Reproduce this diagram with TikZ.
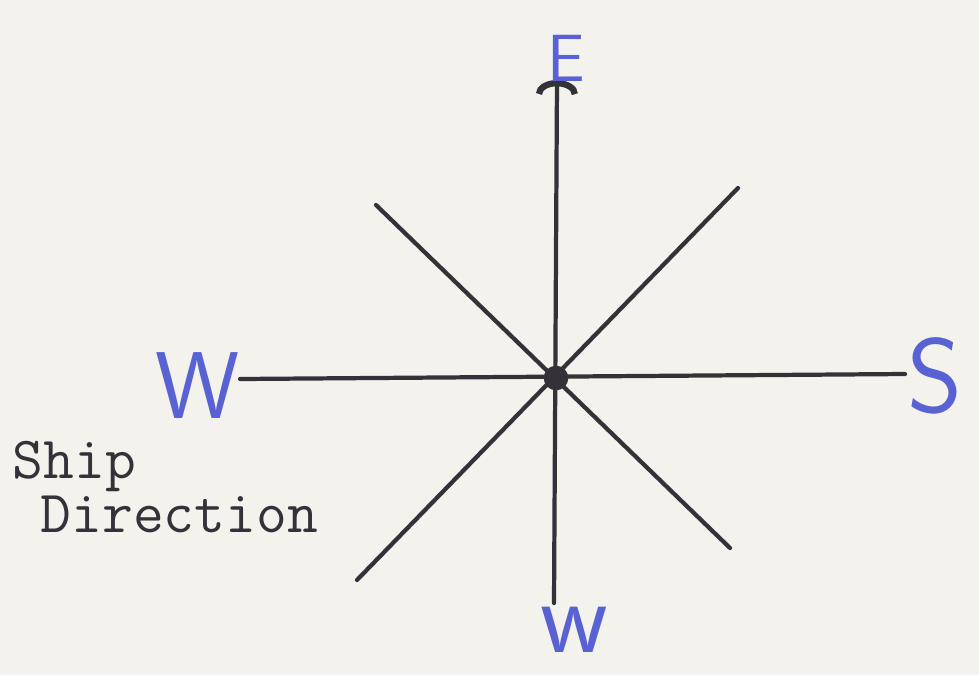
\documentclass[tikz,border=0pt]{standalone}
\usepackage{fontspec}
\usetikzlibrary{arrows.meta,positioning}
\definecolor{inkBlue}{RGB}{88,98,210}
\definecolor{pencil}{RGB}{52,50,56}
\definecolor{paper}{RGB}{243,242,237}

\begin{document}
\begin{tikzpicture}[x=0.01cm, y=-0.01cm,
    leg/.style={draw=pencil, line width=1.2pt, line cap=round},
    hand/.style={text=inkBlue, inner sep=0pt, font=\sffamily\itshape},
    typed/.style={text=pencil, inner sep=0pt, anchor=base west,
      font=\ttfamily\fontsize{17}{17}\selectfont},
  ]
    \fill[paper] (0,0) rectangle (979,675);
    \useasboundingbox (0,0) rectangle (979,675);

    % ends of the eight legs
    \coordinate (top) at (557,80);
    \coordinate (bottom) at (554,603);
    \coordinate (left) at (240,379);
    \coordinate (right) at (905,374);
    \coordinate (ul) at (376,205);
    \coordinate (lr) at (730,548);
    \coordinate (ur) at (738,188);
    \coordinate (ll) at (357,580);

    % the star
    \draw[leg, -{Arc Barb[width=12pt,length=4pt,line width=1.8pt]}] (bottom) -- (top);
    \draw[leg] (left) -- (right);
    \draw[leg] (ul) -- (lr);
    \draw[leg] (ur) -- (ll);
    \node[circle, fill=pencil, inner sep=0pt, minimum size=7pt] (o) at (556,378) {};

    % pen marks
    \node[hand, font=\sffamily\fontsize{19}{19}\selectfont] (east) at (566,58) {E};
    \node[hand, font=\sffamily\fontsize{27}{27}\selectfont] (westL) at (198,386) {W};
    \node[hand, font=\sffamily\fontsize{30}{30}\selectfont] (south) at (935,376) {S};
    \node[hand, font=\sffamily\fontsize{30}{30}\selectfont] (westB) at (574,630) {w};

    % typed caption
    \node[typed] (ship) at (12,478) {Ship};
    \node[typed] (dir) at (40,532) {Direction};
\end{tikzpicture}
\end{document}
